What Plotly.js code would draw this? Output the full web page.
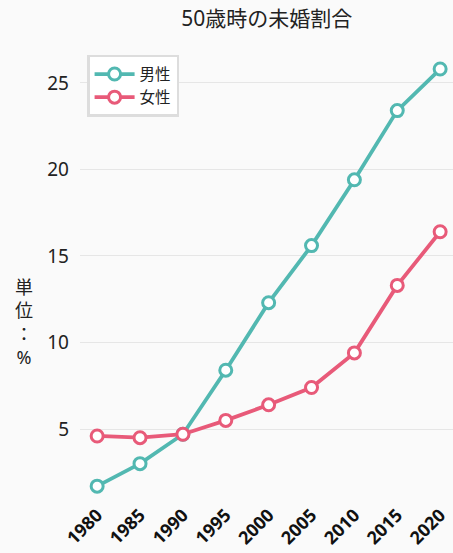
<!DOCTYPE html>
<html><head><meta charset="utf-8">
<script src="https://cdn.plot.ly/plotly-3.0.1.min.js"></script>
<style>html,body{margin:0;padding:0;background:#fafafa;}</style>
</head><body><div id="chart" style="width:453px;height:553px;"></div>
<script>
const years = [1980, 1985, 1990, 1995, 2000, 2005, 2010, 2015, 2020];
const men = [1.7, 3.0, 4.7, 8.4, 12.3, 15.6, 19.4, 23.4, 25.8];
const women = [4.6, 4.5, 4.7, 5.5, 6.4, 7.4, 9.4, 13.3, 16.4];
const seriesNames = ['男性', '女性'];
const yTicks = [5, 10, 15, 20, 25];
const font = '"Noto Sans", "Noto Sans CJK JP", sans-serif';

const mk = (y, name, color) => ({
  x: years, y: y, name: name, type: 'scatter', mode: 'lines+markers',
  line: {color: color, width: 3.8},
  marker: {size: 12, color: '#ffffff', line: {color: color, width: 3}}
});

const data = [mk(men, seriesNames[0], '#52b8b1'), mk(women, seriesNames[1], '#e85a79')];
const layout = {
  width: 453, height: 553,
  paper_bgcolor: '#fafafa', plot_bgcolor: '#fafafa',
  margin: {l: 80, r: 0, t: 50, b: 53},
  font: {family: font, color: '#222'},
  title: {text: '50歳時の未婚割合', x: 0.589, xanchor: 'center', y: 0.966, yanchor: 'middle',
    font: {size: 21, color: '#222'}},
  xaxis: {range: [1978.0, 2021.5], tickvals: years, ticktext: years.map(String), tickangle: -45,
    showgrid: false, zeroline: false, showline: false, ticks: '',
    tickfont: {size: 18, family: font, weight: 'bold', color: '#111'}},
  yaxis: {range: [0.9, 26.9], tickvals: yTicks, showgrid: true, gridcolor: '#e6e6e6', gridwidth: 1.2,
    zeroline: false, showline: false, ticks: '', ticklabelstandoff: 10,
    tickfont: {size: 19, color: '#222'}},
  legend: {x: 0.019, y: 0.989, xanchor: 'left', yanchor: 'top', bgcolor: '#ffffff', itemwidth: 40,
    bordercolor: '#dddddd', borderwidth: 2.5, font: {size: 15.5, color: '#222'}},
  annotations: [{text: '単<br>位<br>：<br>%', xref: 'paper', yref: 'paper', x: -0.15, y: 0.395,
    xanchor: 'center', yanchor: 'middle', showarrow: false, font: {size: 18, color: '#222'}}]
};
Plotly.newPlot('chart', data, layout, {displayModeBar: false});
</script></body></html>
